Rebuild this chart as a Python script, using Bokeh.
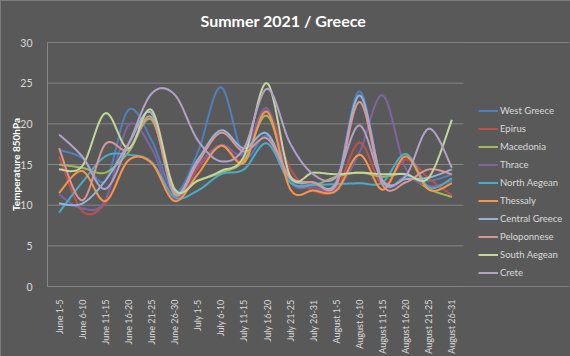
import numpy as np
from bokeh.plotting import figure
from bokeh.models import FixedTicker, Legend, LegendItem
from bokeh.embed import file_html
from bokeh.resources import INLINE

categories = ["June 1-5", "June 6-10", "June 11-15", "June 16-20", "June 21-25", "June 26-30",
              "July 1-5", "July 6-10", "July 11-15", "July 16-20", "July 21-25", "July 26-31",
              "August 1-5", "August 6-10", "August 11-15", "August 16-20", "August 21-25", "August 26-31"]

west_greece = [16.8, 15.8, 13.0, 21.7, 18.0, 11.6, 16.5, 24.5, 16.0, 18.5, 13.0, 12.5, 13.0, 24.0, 12.8, 13.5, 13.0, 13.8]
epirus = [16.0, 9.3, 10.2, 15.5, 15.2, 10.6, 14.5, 17.3, 15.5, 21.5, 14.5, 11.8, 12.0, 17.7, 12.5, 15.6, 13.3, 11.2]
macedonia = [15.0, 14.6, 14.0, 16.5, 20.5, 11.8, 13.0, 14.0, 15.5, 21.0, 13.0, 12.5, 13.5, 14.0, 13.5, 13.8, 12.0, 11.0]
thrace = [11.3, 9.6, 10.6, 19.8, 17.0, 10.7, 14.8, 17.4, 16.3, 21.9, 13.0, 12.2, 12.0, 16.5, 23.5, 14.5, 12.4, 13.0]
north_aegean = [9.1, 12.8, 16.0, 16.2, 15.3, 11.0, 11.8, 13.8, 14.4, 17.6, 12.8, 12.5, 12.6, 12.7, 12.8, 16.3, 12.2, 13.3]
thessaly = [11.5, 14.2, 10.5, 15.5, 15.2, 10.5, 13.8, 17.3, 15.2, 21.5, 12.0, 11.8, 11.8, 16.2, 11.9, 16.0, 11.9, 12.7]
central_greece = [10.2, 10.2, 13.0, 17.5, 21.3, 11.5, 15.6, 19.2, 17.0, 18.8, 13.3, 12.8, 12.8, 23.5, 13.0, 13.2, 13.4, 14.4]
peloponnese = [17.0, 10.6, 17.5, 16.8, 20.8, 11.3, 15.2, 18.9, 16.6, 18.2, 13.5, 12.8, 12.5, 22.7, 12.5, 12.8, 14.4, 13.8]
south_aegean = [14.4, 14.8, 21.3, 17.0, 21.7, 12.0, 13.0, 14.2, 16.0, 25.0, 13.6, 14.0, 13.8, 14.0, 13.8, 13.8, 13.4, 20.5]
crete = [18.7, 16.0, 12.0, 17.5, 23.7, 23.6, 18.0, 15.4, 17.0, 24.3, 17.6, 13.8, 13.5, 19.8, 13.0, 13.6, 19.4, 14.6]

series_names = ["West Greece", "Epirus", "Macedonia", "Thrace", "North Aegean", "Thessaly",
                "Central Greece", "Peloponnese", "South Aegean", "Crete"]
series_values = [west_greece, epirus, macedonia, thrace, north_aegean, thessaly,
                 central_greece, peloponnese, south_aegean, crete]
series_colors = ["#4f81bd", "#c0504d", "#9bbb59", "#8064a2", "#4bacc6", "#f79646",
                 "#95b3d7", "#d99694", "#c3d69b", "#b3a2c7"]
y_ticks = [0, 5, 10, 15, 20, 25, 30]

BG = "#595959"
GRID = "#868686"
TXT = "#d9d9d9"
FONT = "Lato"

W, H = 570, 356
LEFT, RIGHT_EDGE, TOP, BOTTOM = 47, 463, 42, 67   # plot-area pixel geometry
n = len(categories)
x_start = -0.5
x_end = x_start + (W - LEFT) / (RIGHT_EDGE - LEFT) * n   # frame reaches the right edge (room for legend)


def smooth(vals, k=24):
    """Excel-style smoothed line (Catmull-Rom Bezier) through the points."""
    y = np.asarray(vals, dtype=float)
    x = np.arange(len(y), dtype=float)
    xs, ys = [], []
    m = len(y)
    for i in range(m - 1):
        p0 = (x[max(i - 1, 0)], y[max(i - 1, 0)])
        p1 = (x[i], y[i])
        p2 = (x[i + 1], y[i + 1])
        p3 = (x[min(i + 2, m - 1)], y[min(i + 2, m - 1)])
        c1 = (p1[0] + (p2[0] - p0[0]) / 6, p1[1] + (p2[1] - p0[1]) / 6)
        c2 = (p2[0] - (p3[0] - p1[0]) / 6, p2[1] - (p3[1] - p1[1]) / 6)
        t = np.linspace(0, 1, k, endpoint=(i == m - 2))
        a = (1 - t) ** 3
        b = 3 * (1 - t) ** 2 * t
        c = 3 * (1 - t) * t ** 2
        d = t ** 3
        xs.extend(a * p1[0] + b * c1[0] + c * c2[0] + d * p2[0])
        ys.extend(a * p1[1] + b * c1[1] + c * c2[1] + d * p2[1])
    return xs, ys


p = figure(width=W, height=H, output_backend="svg", toolbar_location=None,
           x_range=(x_start, x_end), y_range=(0, 30),
           min_border_left=LEFT, min_border_right=0, min_border_top=TOP, min_border_bottom=BOTTOM)
p.background_fill_color = BG
p.border_fill_color = BG
p.outline_line_color = None
p.styles = {"outline": "1px solid #8a8a8a", "outline-offset": "-1px"}

p.title.text = "Summer 2021 / Greece"
p.title.align = "left"
p.title.offset = 153
p.title.vertical_align = "top"
p.title.text_color = "#ffffff"
p.title.text_font = FONT
p.title.text_font_size = "16px"
p.title.text_font_style = "bold"
p.title.standoff = 21

p.yaxis.ticker = FixedTicker(ticks=y_ticks)
p.yaxis.axis_label = "Temperature 850hPa"
p.yaxis.axis_label_text_font = FONT
p.yaxis.axis_label_text_font_size = "10px"
p.yaxis.axis_label_text_font_style = "bold"
p.yaxis.axis_label_text_color = "#ffffff"
p.yaxis.axis_label_standoff = -5
p.yaxis.major_label_text_font = FONT
p.yaxis.major_label_text_font_size = "10.5px"
p.yaxis.major_label_text_color = TXT
p.yaxis.major_tick_line_color = None
p.yaxis.minor_tick_line_color = None
p.yaxis.axis_line_color = GRID
p.yaxis.major_label_standoff = 9

p.xaxis.ticker = FixedTicker(ticks=list(range(n)))
p.xaxis.major_label_overrides = {i: c for i, c in enumerate(categories)}
p.xaxis.major_label_orientation = np.pi / 2
p.xaxis.major_label_text_font = FONT
p.xaxis.major_label_text_font_size = "9px"
p.xaxis.major_label_text_color = TXT
p.xaxis.major_tick_line_color = None
p.xaxis.minor_tick_line_color = None
p.xaxis.axis_line_color = None
p.xaxis.major_label_standoff = 7

# gridlines / bottom axis line only across the category area
p.xgrid.grid_line_color = None
p.ygrid.grid_line_color = None
p.segment(x0=[x_start] * len(y_ticks), x1=[n - 0.5] * len(y_ticks), y0=y_ticks, y1=y_ticks,
          line_color=GRID, line_width=1)

items = []
for name, vals, col in zip(series_names, series_values, series_colors):
    xs, ys = smooth(vals)
    r = p.line(xs, ys, line_color=col, line_width=2)
    items.append(LegendItem(label=name, renderers=[r]))

legend = Legend(items=items, location=(431, 5))
legend.background_fill_alpha = 0
legend.border_line_color = None
legend.padding = 0
legend.margin = 0
legend.spacing = 1
legend.glyph_width = 20
legend.glyph_height = 17
legend.label_height = 17
legend.label_standoff = 2
legend.label_text_font = FONT
legend.label_text_font_size = "9.5px"
legend.label_text_color = TXT
p.add_layout(legend, "center")

open("out.html", "w").write(file_html(p, INLINE))
